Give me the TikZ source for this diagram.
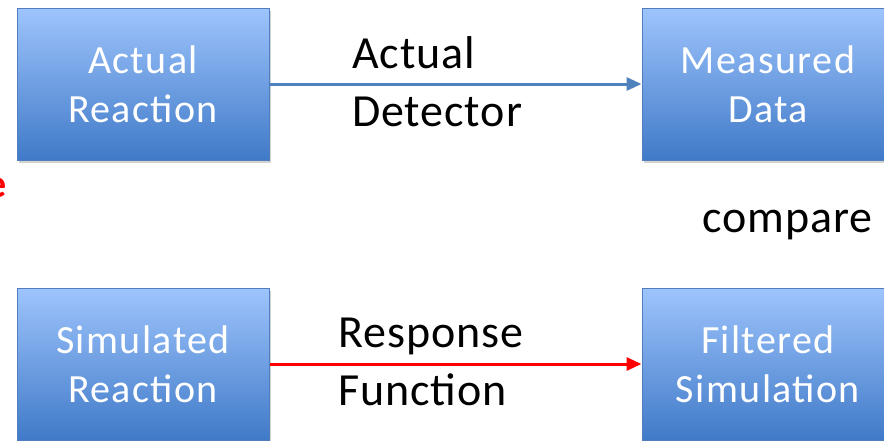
\documentclass[tikz,border=0pt]{standalone}
\usepackage{fontspec}
\setmainfont{Carlito}
\usetikzlibrary{arrows.meta,shadows}
\definecolor{boxtop}{RGB}{158,196,252}
\definecolor{boxbot}{RGB}{64,122,200}
\definecolor{boxline}{RGB}{79,125,190}
\definecolor{bluearr}{RGB}{79,129,189}
\tikzset{
  blockbox/.style={rectangle, minimum width=252pt, minimum height=152pt,
    top color=boxtop, bottom color=boxbot, draw=boxline, line width=1pt,
    text=white, align=center,
    font=\fontsize{40}{49}\selectfont\addfontfeature{LetterSpace=3.5},
    drop shadow={opacity=0.35, shadow xshift=2pt, shadow yshift=-3pt}},
  lbl/.style={align=left, anchor=west, inner sep=0pt,
    font=\fontsize{46}{58}\selectfont\addfontfeature{LetterSpace=2}},
  conn/.style={line width=3pt, -{Triangle[length=15pt,width=13pt]}}
}
\begin{document}
\begin{tikzpicture}[x=1pt,y=-1pt]
\useasboundingbox (0,0) rectangle (884,440);
\clip (0,0) rectangle (884,440);
\fill[white] (0,0) rectangle (884,440);
\node[text=red, font=\bfseries\fontsize{40}{49}\selectfont, anchor=east, inner sep=0pt] (frag) at (7,188) {e};
\node[blockbox] (ar) at (143,84) {Actual\\Reaction};
\node[blockbox] (md) at (768,84) {Measured\\Data};
\node[blockbox] (sr) at (143,364) {Simulated\\Reaction};
\node[blockbox] (fs) at (768,364) {Filtered\\Simulation};
\draw[conn, bluearr] (ar.east) -- (md.west);
\draw[conn, red] (sr.east) -- (fs.west);
\node[lbl] (ad) at (352,82) {Actual\\Detector};
\node[lbl] (rf) at (338,362) {Response\\Function};
\node[lbl] (cmp) at (702,225) {compare};
\end{tikzpicture}
\end{document}
